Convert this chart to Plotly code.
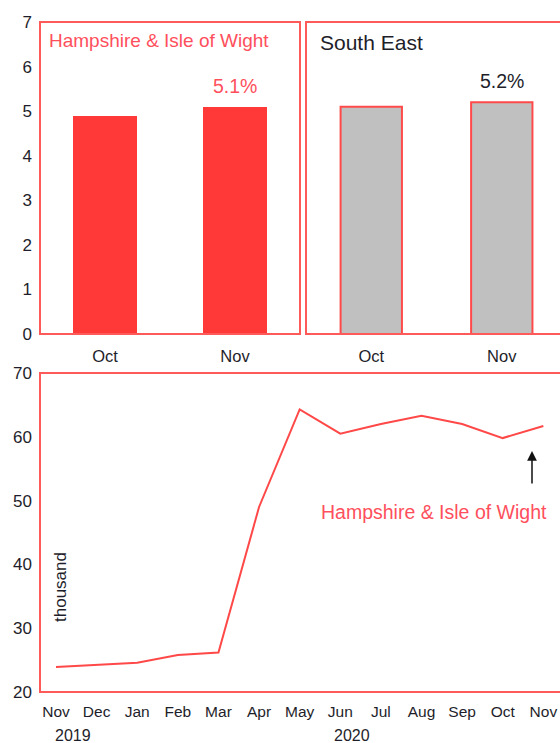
import plotly.graph_objects as go

# ---- data ----
bar_months = ["Oct", "Nov"]
hiow_rate = [4.9, 5.1]
se_rate = [5.1, 5.2]

line_months = ["Nov", "Dec", "Jan", "Feb", "Mar", "Apr", "May", "Jun",
               "Jul", "Aug", "Sep", "Oct", "Nov"]
hiow_claimants = [23.9, 24.3, 24.6, 25.8, 26.2, 49.0, 64.3, 60.5,
                  62.0, 63.3, 62.0, 59.8, 61.7]
year_labels = ["2019", "2020"]

W, H = 560, 743


def px(x):
    return x / W


def py(y):
    return 1 - y / H


FONT = "Liberation Sans, Arial, sans-serif"
RED = "#ff3838"
FRAME = "#ff5a5a"
TXT = "#1e1e2a"
LBL_RED = "#ff4f5c"

fig = go.Figure()

fig.add_trace(go.Bar(x=bar_months, y=hiow_rate, marker=dict(color=RED, line=dict(width=0)),
                     width=0.49, xaxis="x", yaxis="y", showlegend=False))
fig.add_trace(go.Bar(x=bar_months, y=se_rate,
                     marker=dict(color="#c0c0c0", line=dict(color="#ff4a4a", width=2)),
                     width=0.47, xaxis="x2", yaxis="y2", showlegend=False))
fig.add_trace(go.Scatter(x=list(range(len(line_months))), y=hiow_claimants, mode="lines",
                         line=dict(color="#ff4848", width=2), xaxis="x3", yaxis="y3",
                         showlegend=False))

top_dom = [py(334), py(22)]
bot_dom = [py(692), py(373)]

common_axis = dict(showgrid=False, zeroline=False, showline=False, ticks="",
                   fixedrange=True, automargin=False)

fig.update_layout(
    width=W, height=H,
    margin=dict(l=0, r=0, t=0, b=0, autoexpand=False),
    paper_bgcolor="white", plot_bgcolor="white",
    font=dict(family=FONT, color=TXT),
    xaxis=dict(domain=[px(40), px(300)], anchor="y", range=[-0.5, 1.5],
               type="category", tickfont=dict(size=16.5), ticklabelstandoff=10,
               **common_axis),
    yaxis=dict(domain=top_dom, anchor="x", range=[0, 7], dtick=1,
               tickfont=dict(size=17), ticklabelstandoff=7, **common_axis),
    xaxis2=dict(domain=[px(306), 1], anchor="y2", range=[-0.5, 1.446],
                type="category", tickfont=dict(size=16.5), ticklabelstandoff=10,
                **common_axis),
    yaxis2=dict(domain=top_dom, anchor="x2", range=[0, 7], showticklabels=False,
                **common_axis),
    xaxis3=dict(domain=[px(40), 1], anchor="y3", range=[-0.394, 12.41],
                tickvals=list(range(len(line_months))), ticktext=line_months,
                tickfont=dict(size=15.5), ticklabelstandoff=8, **common_axis),
    yaxis3=dict(domain=bot_dom, anchor="x3", range=[20, 70], dtick=10,
                tickfont=dict(size=17), ticklabelstandoff=7, **common_axis),
    bargap=0,
    hovermode=False,
)

shapes = [
    dict(type="rect", xref="paper", yref="paper", x0=px(40), x1=px(300),
         y0=py(334), y1=py(22), line=dict(color=FRAME, width=2)),
    dict(type="rect", xref="paper", yref="paper", x0=px(306), x1=px(640),
         y0=py(334), y1=py(22), line=dict(color=FRAME, width=2)),
    dict(type="rect", xref="paper", yref="paper", x0=px(40), x1=px(640),
         y0=py(692), y1=py(373), line=dict(color=FRAME, width=2)),
]
fig.update_layout(shapes=shapes)

ann = [
    dict(text="Hampshire & Isle of Wight", xref="paper", yref="paper", x=px(47), y=py(40),
         xanchor="left", yanchor="middle", showarrow=False,
         font=dict(size=19, color=LBL_RED)),
    dict(text="South East", xref="paper", yref="paper", x=px(318), y=py(43),
         xanchor="left", yanchor="middle", showarrow=False,
         font=dict(size=21, color=TXT)),
    dict(text=f"{hiow_rate[-1]:.1f}%", xref="x", yref="y", x=bar_months[-1], y=hiow_rate[-1],
         xanchor="center", yanchor="bottom", yshift=8, showarrow=False,
         font=dict(size=19.5, color=LBL_RED)),
    dict(text=f"{se_rate[-1]:.1f}%", xref="x2", yref="y2", x=bar_months[-1], y=se_rate[-1],
         xanchor="center", yanchor="bottom", yshift=8, showarrow=False,
         font=dict(size=19.5, color=TXT)),
    dict(text="thousand", xref="paper", yref="paper", x=px(60), y=py(587),
         textangle=-90, xanchor="center", yanchor="middle", showarrow=False,
         font=dict(size=17, color=TXT)),
    dict(text="Hampshire & Isle of Wight", xref="paper", yref="paper", x=px(434), y=py(512),
         xanchor="center", yanchor="middle", showarrow=False,
         font=dict(size=19.5, color=LBL_RED)),
    dict(text="", xref="paper", yref="paper", x=px(532), y=py(451),
         ax=0, ay=34, axref="pixel", ayref="pixel",
         showarrow=True, arrowhead=2, arrowsize=1.3, arrowwidth=1.5, arrowcolor="#111"),
    dict(text=year_labels[0], xref="paper", yref="paper", x=px(73), y=py(735),
         xanchor="center", yanchor="middle", showarrow=False, font=dict(size=16, color=TXT)),
    dict(text=year_labels[1], xref="paper", yref="paper", x=px(352), y=py(735),
         xanchor="center", yanchor="middle", showarrow=False, font=dict(size=16, color=TXT)),
]
fig.update_layout(annotations=ann)

fig.write_html(
    "out.html",
    config={"displayModeBar": False, "staticPlot": True},
    post_script=(
        "document.body.style.margin='0';"
        "document.body.style.overflow='hidden';"
        "document.documentElement.style.overflow='hidden';"
    ),
)
